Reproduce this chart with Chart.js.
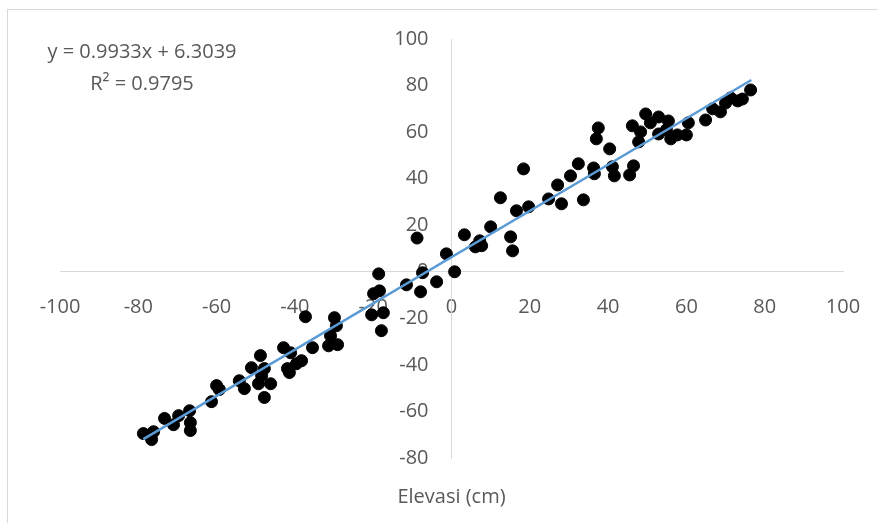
<!DOCTYPE html>
<html>
<head>
<meta charset="utf-8">
<script src="https://cdn.jsdelivr.net/npm/chart.js@4"></script>
<style>
  html, body { margin: 0; padding: 0; background: #fff; overflow: hidden; }
  #wrap { position: relative; width: 878px; height: 523px; }
  #frame { position: absolute; left: 7px; top: 9px; width: 900px; height: 600px; border: 1px solid #d9d9d9; }
  canvas { position: absolute; left: 0; top: 0; }
</style>
</head>
<body>
<div id="wrap">
  <div id="frame"></div>
  <canvas id="chart" width="878" height="523"></canvas>
</div>
<script>
// data
const xValues = [-78.7, -76.6, -76.1, -73.3, -71.0, -69.7, -66.9, -66.7, -66.7, -61.3,
  -60.0, -59.3, -54.2, -52.9, -51.1, -48.8, -48.5, -47.8, -47.8, -49.3,
  -46.2, -42.9, -41.1, -41.9, -41.4, -39.6, -38.3, -37.3, -35.5, -31.4,
  -30.9, -29.9, -29.4, -29.1, -20.4, -19.9, -18.6, -18.4, -17.9, -17.4,
  -11.5, -8.8, -7.9, -7.4, -3.8, -1.3, 0.8, 3.3, 6.1, 7.2,
  7.7, 10.0, 12.5, 15.1, 15.6, 16.6, 18.4, 19.7, 24.8, 27.1,
  28.1, 30.4, 32.4, 33.7, 36.3, 36.5, 37.0, 37.5, 40.4, 41.1,
  41.6, 45.5, 46.2, 46.5, 47.8, 48.3, 49.6, 50.8, 52.9, 52.9,
  54.9, 56.0, 55.4, 57.7, 60.0, 60.5, 64.9, 66.7, 68.7, 70.0,
  71.3, 73.1, 74.3, 76.4];
const yValues = [-69.5, -72.1, -68.7, -63.0, -65.7, -61.8, -59.7, -64.8, -68.2, -55.8,
  -48.9, -50.6, -46.8, -50.2, -41.2, -36.0, -44.6, -41.6, -54.0, -48.1,
  -48.1, -32.6, -34.8, -41.6, -43.3, -39.5, -38.2, -19.3, -32.6, -31.8,
  -27.5, -19.7, -23.2, -31.3, -18.5, -9.4, -0.9, -8.2, -25.3, -17.6,
  -5.6, 14.5, -8.6, -0.4, -4.3, 7.7, 0.0, 15.9, 10.7, 13.3,
  11.2, 19.3, 31.8, 15.0, 9.0, 26.2, 44.2, 27.9, 31.3, 37.3,
  29.2, 41.2, 46.4, 30.9, 44.6, 42.1, 57.1, 61.8, 52.8, 45.1,
  41.2, 41.6, 62.7, 45.5, 55.8, 60.1, 67.8, 64.0, 66.5, 59.2,
  61.0, 57.1, 64.8, 58.8, 58.8, 64.0, 65.2, 70.0, 68.7, 72.5,
  74.7, 73.4, 74.2, 78.1];
const xTicks = [-100, -80, -60, -40, -20, 0, 20, 40, 60, 80, 100];
const yTicks = [-80, -60, -40, -20, 0, 20, 40, 60, 80, 100];
const slope = 0.9933;
const intercept = 6.3039;
const trendX = [-78.7, 76.6];
const equationLines = ['y = 0.9933x + 6.3039', 'R² = 0.9795'];
const xTitle = 'Elevasi (cm)';

const points = xValues.map((x, i) => ({ x: x, y: yValues[i] }));
const trend = trendX.map(x => ({ x: x, y: slope * x + intercept }));

const FONT = '"Open Sans", sans-serif';
const TEXT = '#595959';

// y tick labels (sit left of the centred axis), equation and axis title
const textPlugin = {
  id: 'extraText',
  beforeDatasetsDraw(chart) {
    const ctx = chart.ctx;
    const area = chart.chartArea;
    const xs = chart.scales.x;
    const ys = chart.scales.y;
    ctx.save();
    ctx.fillStyle = TEXT;
    ctx.font = '20px ' + FONT;
    ctx.textAlign = 'right';
    ctx.textBaseline = 'middle';
    const axisX = xs.getPixelForValue(0);
    yTicks.forEach(v => {
      ctx.fillText(String(v), axisX - 23, ys.getPixelForValue(v));
    });
    ctx.textAlign = 'center';
    ctx.fillText(equationLines[0], 142, 52);
    ctx.fillText(equationLines[1], 142, 84);
    ctx.fillText(xTitle, (area.left + area.right) / 2, 497);
    ctx.restore();
  }
};

new Chart(document.getElementById('chart'), {
  type: 'scatter',
  data: {
    datasets: [
      {
        label: 'data',
        data: points,
        backgroundColor: '#000',
        borderColor: '#000',
        pointRadius: 6,
        pointHoverRadius: 6,
        order: 2
      },
      {
        type: 'line',
        label: 'trend',
        data: trend,
        borderColor: '#5b9bd5',
        borderWidth: 2.5,
        pointRadius: 0,
        fill: false,
        order: 1
      }
    ]
  },
  options: {
    responsive: false,
    animation: false,
    layout: { padding: { left: 60, right: 35, top: 39, bottom: 65 } },
    plugins: {
      legend: { display: false },
      tooltip: { enabled: false }
    },
    scales: {
      x: {
        type: 'linear',
        position: { y: 0 },
        min: -100,
        max: 100,
        afterBuildTicks: axis => { axis.ticks = xTicks.map(v => ({ value: v })); },
        grid: { display: false },
        border: { display: true, color: '#d9d9d9', width: 1 },
        ticks: { color: TEXT, font: { family: FONT, size: 20 }, padding: 16, maxRotation: 0 }
      },
      y: {
        type: 'linear',
        position: { x: 0 },
        min: -80,
        max: 100,
        afterBuildTicks: axis => { axis.ticks = yTicks.map(v => ({ value: v })); },
        grid: { display: false },
        border: { display: true, color: '#d9d9d9', width: 1 },
        ticks: { color: 'rgba(0,0,0,0)', font: { family: FONT, size: 20 }, padding: 22 }
      }
    }
  },
  plugins: [textPlugin]
});
</script>
</body>
</html>
